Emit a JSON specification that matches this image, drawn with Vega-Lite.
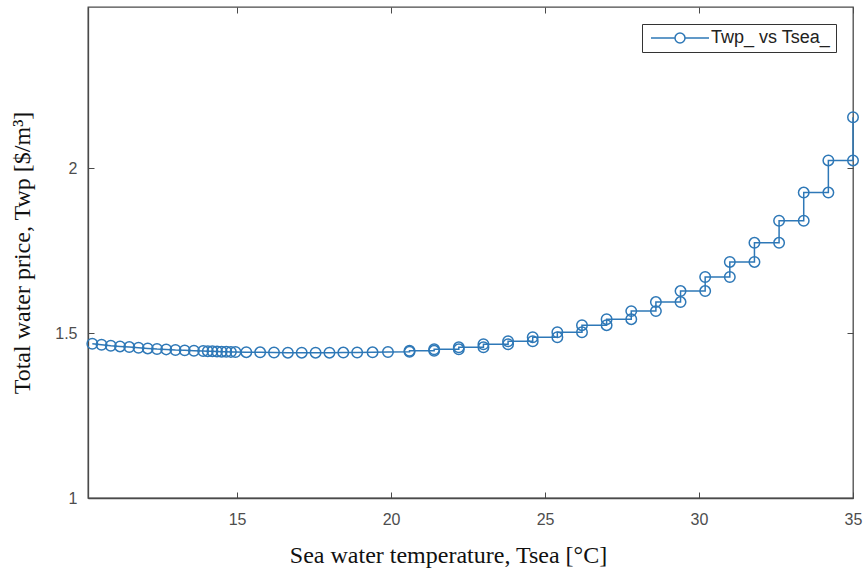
{
  "$schema": "https://vega.github.io/schema/vega-lite/v6.json",
  "width": 765,
  "height": 491,
  "autosize": "none",
  "padding": {"left": 88, "top": 7, "right": 13, "bottom": 76},
  "background": "white",
  "config": {"view": {"stroke": "#4a4a4a", "strokeWidth": 1.3}},
  "data": {"values": [
    {"i": 1, "t": 10.3, "p": 1.468},
    {"i": 2, "t": 10.6, "p": 1.465},
    {"i": 3, "t": 10.9, "p": 1.462},
    {"i": 4, "t": 11.2, "p": 1.46},
    {"i": 5, "t": 11.5, "p": 1.458},
    {"i": 6, "t": 11.8, "p": 1.456},
    {"i": 7, "t": 12.1, "p": 1.454},
    {"i": 8, "t": 12.4, "p": 1.452},
    {"i": 9, "t": 12.7, "p": 1.451},
    {"i": 10, "t": 13.0, "p": 1.449},
    {"i": 11, "t": 13.3, "p": 1.448},
    {"i": 12, "t": 13.6, "p": 1.447},
    {"i": 13, "t": 13.9, "p": 1.446},
    {"i": 14, "t": 14.05, "p": 1.4455},
    {"i": 15, "t": 14.2, "p": 1.445},
    {"i": 16, "t": 14.35, "p": 1.4445},
    {"i": 17, "t": 14.5, "p": 1.444},
    {"i": 18, "t": 14.65, "p": 1.4437},
    {"i": 19, "t": 14.8, "p": 1.4434},
    {"i": 20, "t": 14.95, "p": 1.443},
    {"i": 21, "t": 15.3, "p": 1.4425},
    {"i": 22, "t": 15.75, "p": 1.442},
    {"i": 23, "t": 16.2, "p": 1.4415},
    {"i": 24, "t": 16.65, "p": 1.441},
    {"i": 25, "t": 17.1, "p": 1.441},
    {"i": 26, "t": 17.55, "p": 1.441},
    {"i": 27, "t": 18.0, "p": 1.441},
    {"i": 28, "t": 18.45, "p": 1.4412},
    {"i": 29, "t": 18.9, "p": 1.4415},
    {"i": 30, "t": 19.4, "p": 1.442},
    {"i": 31, "t": 19.9, "p": 1.443},
    {"i": 32, "t": 20.6, "p": 1.4436},
    {"i": 33, "t": 20.6, "p": 1.4466},
    {"i": 34, "t": 21.4, "p": 1.4466},
    {"i": 35, "t": 21.4, "p": 1.4512},
    {"i": 36, "t": 22.2, "p": 1.4512},
    {"i": 37, "t": 22.2, "p": 1.4573},
    {"i": 38, "t": 23.0, "p": 1.4573},
    {"i": 39, "t": 23.0, "p": 1.4665},
    {"i": 40, "t": 23.8, "p": 1.4665},
    {"i": 41, "t": 23.8, "p": 1.4756},
    {"i": 42, "t": 24.6, "p": 1.4756},
    {"i": 43, "t": 24.6, "p": 1.4878},
    {"i": 44, "t": 25.4, "p": 1.4878},
    {"i": 45, "t": 25.4, "p": 1.503},
    {"i": 46, "t": 26.2, "p": 1.503},
    {"i": 47, "t": 26.2, "p": 1.5244},
    {"i": 48, "t": 27.0, "p": 1.5244},
    {"i": 49, "t": 27.0, "p": 1.5427},
    {"i": 50, "t": 27.8, "p": 1.5427},
    {"i": 51, "t": 27.8, "p": 1.5671},
    {"i": 52, "t": 28.6, "p": 1.5671},
    {"i": 53, "t": 28.6, "p": 1.5945},
    {"i": 54, "t": 29.4, "p": 1.5945},
    {"i": 55, "t": 29.4, "p": 1.628},
    {"i": 56, "t": 30.2, "p": 1.628},
    {"i": 57, "t": 30.2, "p": 1.6707},
    {"i": 58, "t": 31.0, "p": 1.6707},
    {"i": 59, "t": 31.0, "p": 1.7165},
    {"i": 60, "t": 31.8, "p": 1.7165},
    {"i": 61, "t": 31.8, "p": 1.7744},
    {"i": 62, "t": 32.6, "p": 1.7744},
    {"i": 63, "t": 32.6, "p": 1.8415},
    {"i": 64, "t": 33.4, "p": 1.8415},
    {"i": 65, "t": 33.4, "p": 1.9268},
    {"i": 66, "t": 34.2, "p": 1.9268},
    {"i": 67, "t": 34.2, "p": 2.0244},
    {"i": 68, "t": 35.0, "p": 2.0244},
    {"i": 69, "t": 35.0, "p": 2.1555}
  ]},
  "encoding": {
    "color": {
      "datum": "Twp_ vs Tsea_",
      "type": "nominal",
      "scale": {"range": ["#2e78b7"]},
      "legend": {
        "title": null,
        "orient": "top-right",
        "offset": 17,
        "symbolType": "M-5.8,0L-1,0M1,0L5.8,0M1,0A1,1,0,1,1,-1,0A1,1,0,1,1,1,0",
        "symbolSize": 100,
        "symbolOffset": 24,
        "symbolStrokeWidth": 1.5,
        "symbolFillColor": "transparent",
        "labelFont": "Liberation Sans",
        "labelFontSize": 18,
        "labelColor": "#222222",
        "labelOffset": 22,
        "strokeColor": "#333333",
        "fillColor": "white",
        "padding": 5
      }
    }
  },
  "layer": [
    {
      "mark": {"type": "line", "strokeWidth": 1.5},
      "encoding": {
        "order": {"field": "i", "type": "quantitative"},
        "x": {
          "field": "t", "type": "quantitative",
          "scale": {"domain": [10.16, 35], "nice": false, "zero": false},
          "axis": {
            "orient": "bottom", "values": [15, 20, 25, 30, 35], "grid": false, "labelFlush": false,
            "tickSize": -6, "tickColor": "#4a4a4a", "domainColor": "#4a4a4a", "domainWidth": 1.3,
            "labelFont": "Liberation Sans", "labelFontSize": 16, "labelColor": "#4d4d4d", "labelPadding": 19,
            "title": "Sea water temperature, Tsea [°C]",
            "titleFont": "Liberation Serif", "titleFontSize": 24, "titleFontWeight": "normal",
            "titleColor": "#111111", "titlePadding": 16, "titleX": 360
          }
        },
        "y": {
          "field": "p", "type": "quantitative",
          "scale": {"domain": [1, 2.49], "nice": false, "zero": false},
          "axis": {
            "orient": "left", "values": [1, 1.5, 2], "format": "~g", "grid": false, "labelFlush": false,
            "tickSize": -6, "tickColor": "#4a4a4a", "domainColor": "#4a4a4a", "domainWidth": 1.3,
            "labelFont": "Liberation Sans", "labelFontSize": 16, "labelColor": "#4d4d4d", "labelPadding": 17,
            "title": "Total water price, Twp [$/m³]",
            "titleFont": "Liberation Serif", "titleFontSize": 24, "titleFontWeight": "normal",
            "titleColor": "#111111", "titlePadding": 20
          }
        }
      }
    },
    {
      "mark": {"type": "point", "shape": "circle", "filled": false, "size": 110, "strokeWidth": 1.5, "opacity": 1},
      "encoding": {
        "x": {
          "field": "t", "type": "quantitative",
          "axis": {"orient": "top", "values": [15, 20, 25, 30, 35], "labels": false, "domain": false, "grid": false, "tickSize": -6, "tickColor": "#4a4a4a", "title": null}
        },
        "y": {
          "field": "p", "type": "quantitative",
          "axis": {"orient": "right", "values": [1, 1.5, 2], "labels": false, "domain": false, "grid": false, "tickSize": -6, "tickColor": "#4a4a4a", "title": null}
        }
      }
    }
  ],
  "resolve": {"axis": {"x": "independent", "y": "independent"}}
}
